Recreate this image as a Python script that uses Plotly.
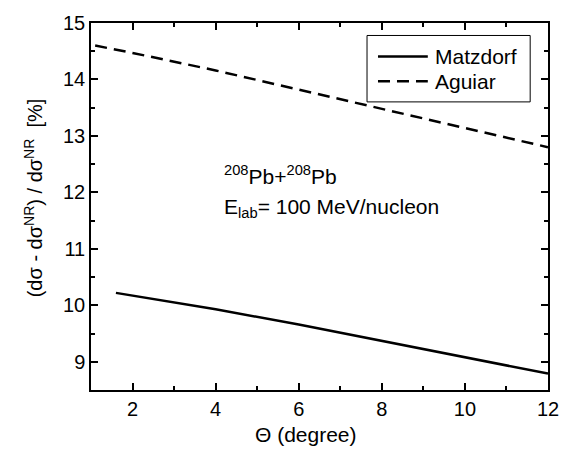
import plotly.graph_objects as go

# Data
matzdorf_x = [1.6, 2, 4, 6, 8, 10, 12]
matzdorf_y = [10.22, 10.17, 9.93, 9.66, 9.37, 9.08, 8.79]
aguiar_x = [1.1, 2, 4, 6, 8, 10, 12]
aguiar_y = [14.6, 14.47, 14.16, 13.82, 13.48, 13.14, 12.8]
x_ticks = [2, 4, 6, 8, 10, 12]
y_ticks = [9, 10, 11, 12, 13, 14, 15]
series_names = ["Matzdorf", "Aguiar"]
series_dash = ["solid", "12px,7px"]

FONT = "Liberation Sans, Arial, sans-serif"

fig = go.Figure()
fig.add_trace(go.Scatter(x=matzdorf_x, y=matzdorf_y, mode="lines", name=series_names[0],
                         line=dict(color="black", width=2.5, dash=series_dash[0])))
fig.add_trace(go.Scatter(x=aguiar_x, y=aguiar_y, mode="lines", name=series_names[1],
                         line=dict(color="black", width=2.5, dash=series_dash[1])))

axis_common = dict(showline=True, linecolor="black", linewidth=1.5, mirror="allticks",
                   ticks="inside", ticklen=7, tickwidth=1.5, tickcolor="black",
                   showgrid=False, zeroline=False,
                   tickfont=dict(family=FONT, size=20, color="black"))

fig.update_xaxes(range=[1, 12], tickvals=x_ticks,
                 minor=dict(ticks="inside", dtick=1, tick0=1, ticklen=4, tickwidth=1.5, tickcolor="black"),
                 **axis_common)
fig.update_yaxes(range=[8.5, 15], tickvals=y_ticks,
                 minor=dict(ticks="inside", dtick=0.5, tick0=8.5, ticklen=4, tickwidth=1.5, tickcolor="black"),
                 **axis_common)

# axis titles as annotations for exact placement
fig.add_annotation(xref="paper", yref="paper", x=0.47, y=-0.12, xanchor="center", yanchor="middle",
                   text="Θ (degree)", showarrow=False,
                   font=dict(family=FONT, size=21, color="black"))
fig.add_annotation(xref="paper", yref="paper", x=-0.127, y=0.525, xanchor="center", yanchor="middle",
                   text="(dσ - dσ<sup>NR</sup>) / dσ<sup>NR</sup>  [%]", showarrow=False, textangle=-90,
                   font=dict(family=FONT, size=20, color="black"))

fig.add_annotation(xref="paper", yref="paper", x=0.287, y=0.585, xanchor="left", yanchor="middle",
                   text="<sup>208</sup>Pb+<sup>208</sup>Pb", showarrow=False,
                   font=dict(family=FONT, size=21, color="black"))
fig.add_annotation(xref="paper", yref="paper", x=0.287, y=0.497, xanchor="left", yanchor="middle",
                   text="E<sub>lab</sub>= 100 MeV/nucleon", showarrow=False,
                   font=dict(family=FONT, size=21, color="black"))

# legend box (drawn to match the reference's longer line samples)
fig.add_shape(type="rect", xref="paper", yref="paper", x0=0.604, x1=0.961, y0=0.785, y1=0.966,
              line=dict(color="black", width=1), fillcolor="white", layer="above")
legend_rows = [0.9086, 0.8414]
for name, dash, yy in zip(series_names, series_dash, legend_rows):
    fig.add_shape(type="line", xref="paper", yref="paper", x0=0.628, x1=0.737, y0=yy, y1=yy,
                  line=dict(color="black", width=2.5, dash=dash), layer="above")
    fig.add_annotation(xref="paper", yref="paper", x=0.748, y=yy, xanchor="left", yanchor="middle",
                       text=name, showarrow=False, font=dict(family=FONT, size=21, color="black"))

fig.update_layout(
    width=579, height=449,
    margin=dict(l=91, r=31, t=18, b=59),
    paper_bgcolor="white", plot_bgcolor="white",
    showlegend=False,
)

fig.write_html("out.html", config={"displayModeBar": False},
               post_script="document.body.style.margin='0px';document.body.style.overflow='hidden';")
